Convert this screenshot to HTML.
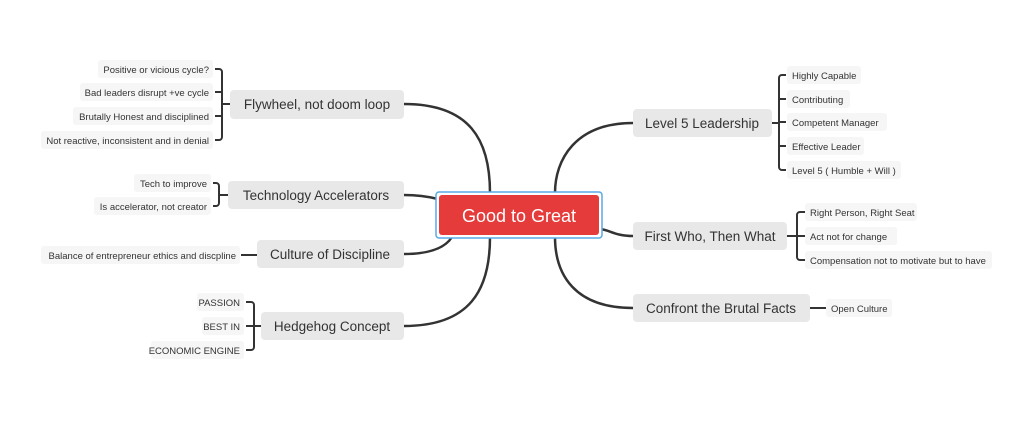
<!DOCTYPE html>
<html><head><meta charset="utf-8"><style>
html,body{margin:0;padding:0;background:#fff;}
svg{display:block;}
text{font-family:"Liberation Sans",sans-serif;}
.m{font-size:13.5px;fill:#333;}
.s{font-size:9.5px;fill:#333;}
</style></head><body>
<svg width="1024" height="437" viewBox="0 0 1024 437" xmlns="http://www.w3.org/2000/svg">
<g fill="none" stroke="#333" stroke-width="2.5">
<path d="M404,104 C470,104 490,140 490,193"/>
<path d="M404,195 C420,195 430,197 438,199"/>
<path d="M404,254 C430,254 445,248 452,237"/>
<path d="M404,326 C470,326 490,290 490,237"/>
<path d="M633,123 C575,123 555,160 555,193"/>
<path d="M633,236 C615,236 610,230 600,229"/>
<path d="M633,308 C575,308 555,275 555,237"/>
</g>
<g fill="none" stroke="#333" stroke-width="2">
<path d="M215,69 h4 a3,3 0 0 1 3,3 v65 a3,3 0 0 1 -3,3 h-4 M215,92 h7 M215,116 h7 M222,104 h8"/>
<path d="M213,183 h3 a3,3 0 0 1 3,3 v17 a3,3 0 0 1 -3,3 h-3 M219,195 h9"/>
<path d="M241,255 h16"/>
<path d="M246,302 h5 a3,3 0 0 1 3,3 v42 a3,3 0 0 1 -3,3 h-5 M246,326 h8 M254,326 h7"/>
<path d="M786,75 h-4 a3,3 0 0 0 -3,3 v89 a3,3 0 0 0 3,3 h4 M786,99 h-7 M786,122 h-7 M786,146 h-7 M779,123 h-7"/>
<path d="M805,212 h-5 a3,3 0 0 0 -3,3 v42 a3,3 0 0 0 3,3 h5 M805,236 h-8 M797,236 h-10"/>
<path d="M810,308 h16"/>
</g>
<rect x="436" y="192" width="166" height="46" rx="3" fill="#fff" stroke="#5aa9e6" stroke-width="1.5"/>
<rect x="439" y="195" width="160" height="40" rx="3" fill="#e53b3b"/>
<text x="519" y="222" text-anchor="middle" font-size="18" fill="#fff" font-family="Liberation Sans,sans-serif">Good to Great</text>
<g fill="#e8e8e8">
<rect x="230" y="90" width="174" height="29" rx="4"/>
<rect x="228" y="181" width="176" height="28" rx="4"/>
<rect x="257" y="240" width="147" height="28" rx="4"/>
<rect x="261" y="312" width="143" height="28" rx="4"/>
<rect x="633" y="109" width="139" height="28" rx="4"/>
<rect x="633" y="222" width="154" height="28" rx="4"/>
<rect x="633" y="294" width="177" height="28" rx="4"/>
</g>
<text class="m" x="317" y="109" text-anchor="middle">Flywheel, not doom loop</text>
<text class="m" x="316" y="200" text-anchor="middle">Technology Accelerators</text>
<text class="m" x="330" y="259" text-anchor="middle">Culture of Discipline</text>
<text class="m" x="332" y="331" text-anchor="middle">Hedgehog Concept</text>
<text class="m" x="702" y="128" text-anchor="middle">Level 5 Leadership</text>
<text class="m" x="710" y="241" text-anchor="middle">First Who, Then What</text>
<text class="m" x="721" y="313" text-anchor="middle">Confront the Brutal Facts</text>
<g fill="#f6f6f6">
<rect x="98" y="60" width="115" height="18" rx="3"/>
<rect x="80" y="83" width="133" height="18" rx="3"/>
<rect x="73" y="107" width="140" height="18" rx="3"/>
<rect x="41" y="131" width="172" height="18" rx="3"/>
<rect x="134" y="174" width="77" height="18" rx="3"/>
<rect x="94" y="197" width="117" height="18" rx="3"/>
<rect x="41" y="246" width="199" height="18" rx="3"/>
<rect x="197" y="293" width="47" height="18" rx="3"/>
<rect x="202" y="317" width="42" height="18" rx="3"/>
<rect x="151" y="341" width="93" height="18" rx="3"/>
<rect x="787" y="66" width="74" height="18" rx="3"/>
<rect x="787" y="90" width="63" height="18" rx="3"/>
<rect x="787" y="113" width="100" height="18" rx="3"/>
<rect x="787" y="137" width="77" height="18" rx="3"/>
<rect x="787" y="161" width="114" height="18" rx="3"/>
<rect x="805" y="203" width="112" height="18" rx="3"/>
<rect x="805" y="227" width="92" height="18" rx="3"/>
<rect x="805" y="251" width="187" height="18" rx="3"/>
<rect x="826" y="299" width="66" height="18" rx="3"/>
</g>
<g class="s" text-anchor="end">
<text class="s" x="209" y="73">Positive or vicious cycle?</text>
<text class="s" x="209" y="96">Bad leaders disrupt +ve cycle</text>
<text class="s" x="209" y="120">Brutally Honest and disciplined</text>
<text class="s" x="209" y="144">Not reactive, inconsistent and in denial</text>
<text class="s" x="207" y="187">Tech to improve</text>
<text class="s" x="207" y="210">Is accelerator, not creator</text>
<text class="s" x="236" y="259">Balance of entrepreneur ethics and discpline</text>
<text class="s" x="240" y="306">PASSION</text>
<text class="s" x="240" y="330">BEST IN</text>
<text class="s" x="240" y="354">ECONOMIC ENGINE</text>
</g>
<g class="s">
<text class="s" x="792" y="79">Highly Capable</text>
<text class="s" x="792" y="103">Contributing</text>
<text class="s" x="792" y="126">Competent Manager</text>
<text class="s" x="792" y="150">Effective Leader</text>
<text class="s" x="792" y="174">Level 5 ( Humble + Will )</text>
<text class="s" x="810" y="216">Right Person, Right Seat</text>
<text class="s" x="810" y="240">Act not for change</text>
<text class="s" x="810" y="264">Compensation not to motivate but to have</text>
<text class="s" x="831" y="312">Open Culture</text>
</g>
</svg>
</body></html>
